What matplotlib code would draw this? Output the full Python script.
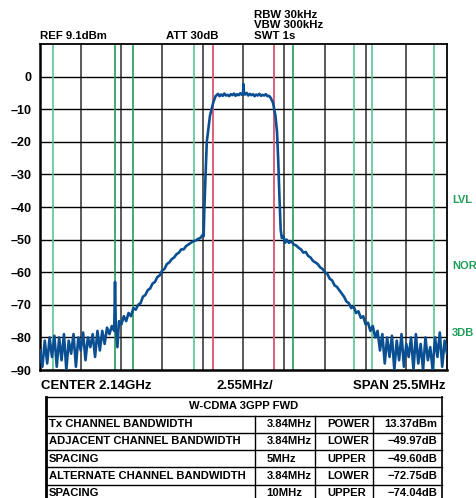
import numpy as np
import matplotlib
matplotlib.use("Agg")
import matplotlib.pyplot as plt

plt.rcParams["font.family"] = ["Liberation Sans", "DejaVu Sans"]
plt.rcParams["font.weight"] = "bold"

# spectrum trace (offset from centre in MHz, level in dB)
freq_mhz = [-12.75, -12.6, -12.45, -12.3, -12.15, -12.0, -11.85, -11.7, -11.55, -11.4,
            -11.25, -11.1, -10.95, -10.8, -10.65, -10.5, -10.35, -10.2, -10.05, -9.9,
            -9.75, -9.6, -9.45, -9.3, -9.15, -9.0, -8.85, -8.7, -8.55, -8.4,
            -8.25, -8.1, -8.05, -8.0, -7.9, -7.8, -7.65, -7.5, -7.35, -7.2,
            -7.05, -6.9, -6.75, -6.6, -6.45, -6.3, -6.15, -6.0, -5.85, -5.7,
            -5.55, -5.4, -5.25, -5.1, -4.95, -4.8, -4.65, -4.5, -4.35, -4.2,
            -4.05, -3.9, -3.75, -3.6, -3.45, -3.3, -3.15, -3.0, -2.85, -2.7,
            -2.55, -2.5, -2.45, -2.3, -2.1, -1.9, -1.75,
            -1.6, -1.5, -1.4, -1.3, -1.2, -1.1, -1.0, -0.9, -0.8, -0.7,
            -0.6, -0.5, -0.4, -0.3, -0.2, -0.1, -0.03, 0.0, 0.03, 0.1,
            0.2, 0.3, 0.4, 0.5, 0.6, 0.7, 0.8, 0.9, 1.0, 1.1,
            1.2, 1.3, 1.4, 1.5, 1.6, 1.7, 1.85, 2.0, 2.1, 2.17,
            2.26, 2.33, 2.4, 2.5, 2.6, 2.7, 2.85, 3.0, 3.15, 3.3,
            3.45, 3.6, 3.75, 3.9, 4.05, 4.2, 4.35, 4.5, 4.65, 4.8,
            4.95, 5.1, 5.25, 5.4, 5.55, 5.7, 5.85, 6.0, 6.15, 6.3,
            6.45, 6.6, 6.75, 6.9, 7.05, 7.2, 7.35, 7.5, 7.65, 7.8,
            7.95, 8.1, 8.25, 8.4, 8.55, 8.7, 8.85, 9.0, 9.15, 9.3,
            9.45, 9.6, 9.75, 9.9, 10.05, 10.2, 10.35, 10.5, 10.65, 10.8,
            10.95, 11.1, 11.25, 11.4, 11.55, 11.7, 11.85, 12.0, 12.15, 12.3,
            12.45, 12.6, 12.75]
level_db = [-84, -89, -81, -88, -80, -86, -79.5, -89, -80, -87,
            -79, -90, -81, -85, -79, -89, -80, -84, -78.5, -87,
            -80, -83, -79, -86, -78, -84, -78, -82, -77, -79,
            -76.5, -78, -63, -77, -83, -75, -76, -73.5, -75, -72.5,
            -73.5, -71, -71.5, -70, -69.5, -67.5, -67, -65.5, -65, -63.5,
            -63, -61.5, -61, -59.5, -59, -57.5, -57, -56, -55.5, -54.5,
            -54, -53, -53, -52, -51.5, -51, -50.5, -50.3, -49.8, -49.5,
            -48.5, -49, -40, -20, -12, -8, -6,
            -5.3, -6.0, -5.5, -5.9, -5.2, -5.8, -5.6, -6.0, -5.4, -5.7,
            -5.2, -5.9, -5.4, -5.7, -5.1, -5.6, -5.3, -2.3, -5.4, -5.5,
            -5.0, -5.8, -5.3, -5.7, -5.4, -6.0, -5.5, -5.8, -5.3, -5.9,
            -5.6, -5.8, -5.4, -6.0, -5.9, -6.5, -8, -12, -17, -25,
            -38, -47, -49.5, -49, -51, -50, -51, -50.5, -51.5, -51.8,
            -52.5, -53, -54, -53.8, -55, -55.5, -56.5, -57, -57.5, -58.5,
            -59, -60, -60.5, -62, -62.5, -64, -64.5, -65.5, -66.5, -67.5,
            -69, -69.5, -71, -70.5, -72.5, -72, -74, -73.5, -76, -75.5,
            -78, -76.5, -80, -78, -84, -79, -88, -80, -86, -79.5,
            -90, -81, -87, -79, -89, -82, -86, -80, -90, -79,
            -88, -82, -90, -80, -87, -83, -90, -80, -86, -78.5,
            -89, -81, -85]

# channel boundaries (MHz from centre)
tx_edges = [-1.92, 1.92]
adj_edges = [-6.92, -3.08, 3.08, 6.92]
alt_edges = [-11.92, -8.08, 8.08, 11.92]

y_ticks = [0, -10, -20, -30, -40, -50, -60, -70, -80, -90]
span = 25.5
div = 2.55

table_header = "W-CDMA 3GPP FWD"
table_rows = [
    ["Tx CHANNEL BANDWIDTH", "3.84MHz", "POWER", "13.37dBm"],
    ["ADJACENT CHANNEL BANDWIDTH", "3.84MHz", "LOWER", "\u221249.97dB"],
    ["SPACING", "5MHz", "UPPER", "\u221249.60dB"],
    ["ALTERNATE CHANNEL BANDWIDTH", "3.84MHz", "LOWER", "\u221272.75dB"],
    ["SPACING", "10MHz", "UPPER", "\u221274.04dB"],
]

W, H = 477, 498
fig = plt.figure(figsize=(W / 100, H / 100), dpi=100)
ax = fig.add_axes([40 / W, 1 - 370 / H, 407 / W, 326 / H])

ax.set_xlim(-span / 2, span / 2)
ax.set_ylim(-90, 10)

# grid
for k in range(1, 10):
    ax.axvline(-span / 2 + k * div, color="#5a5a5a", lw=1.4, zorder=1)
for y in y_ticks[:-1]:
    ax.axhline(y, color="black", lw=1.0, zorder=1)

dark_green = "#1f9e5a"
light_green = "#5cc592"
for x, c in zip(alt_edges + adj_edges,
                [light_green, dark_green, light_green, light_green,
                 dark_green, light_green, dark_green, light_green]):
    ax.axvline(x, color=c, lw=1.2, zorder=2)
for x in tx_edges:
    ax.axvline(x, color="#d9607a", lw=1.4, zorder=2)

ax.plot(freq_mhz, level_db, color="#0b4f93", lw=1.9, zorder=3)

ax.set_yticks(y_ticks)
ax.set_yticklabels([str(v).replace("-", "\u2013") for v in y_ticks],
                   fontsize=9, fontweight="bold")
ax.set_xticks([])
ax.tick_params(axis="y", length=0, pad=6)
for s in ["left", "bottom"]:
    ax.spines[s].set_linewidth(1.8)
for s in ["top", "right"]:
    ax.spines[s].set_linewidth(1.3)

# side marker labels
for label, yv in [("LVL", -37.8), ("NOR", -58), ("3DB", -78.6)]:
    ax.text(1.012, (yv + 90) / 100, label, transform=ax.transAxes, color="#1f9e5a",
            fontsize=8, fontweight="bold", va="center", ha="left")

# overlay for header text and table, in pixel coordinates
ov = fig.add_axes([0, 0, 1, 1])
ov.set_xlim(0, W)
ov.set_ylim(H, 0)
ov.axis("off")

fs = 8.2
ov.text(40, 36, "REF 9.1dBm", fontsize=fs, fontweight="bold", va="center")
ov.text(166.5, 36, "ATT 30dB", fontsize=fs, fontweight="bold", va="center")
for i, t in enumerate(["RBW 30kHz", "VBW 300kHz", "SWT 1s"]):
    ov.text(254, 14.7 + i * 10.7, t, fontsize=fs, fontweight="bold", va="center")

ov.text(41, 385.5, "CENTER 2.14GHz", fontsize=9.5, fontweight="bold", va="center")
ov.text(216.5, 385.5, "2.55MHz/", fontsize=9.5, fontweight="bold", va="center")
ov.text(446, 385.5, "SPAN 25.5MHz", fontsize=9.5, fontweight="bold", va="center", ha="right")

# table
tl, tr = 45.7, 441.7
row_y = [396.7, 415.5, 432.8, 450.1, 467.4, 484.7, 502]
col_x = [45.7, 255, 315, 373.3, 441.7]
ov.plot([tl, tl], [row_y[0], H], color="black", lw=2.0, clip_on=False)
ov.plot([tr, tr], [row_y[0], H], color="black", lw=1.2)
for y in row_y[:-1]:
    ov.plot([tl, tr], [y, y], color="black", lw=1.0)
for x in col_x[1:-1]:
    ov.plot([x, x], [row_y[1], H], color="black", lw=1.0)
tfs = 8.15
ov.text((tl + tr) / 2, (row_y[0] + row_y[1]) / 2, table_header, fontsize=tfs,
        fontweight="bold", ha="center", va="center")
for r, row in enumerate(table_rows):
    yc = (row_y[r + 1] + row_y[r + 2]) / 2
    ov.text(49, yc, row[0], fontsize=tfs, fontweight="bold", va="center")
    ov.text(266.5, yc, row[1], fontsize=tfs, fontweight="bold", va="center")
    ov.text(327, yc, row[2], fontsize=tfs, fontweight="bold", va="center")
    ov.text(437.5, yc, row[3], fontsize=tfs, fontweight="bold", va="center", ha="right")

fig.savefig("out.png", dpi=100)
